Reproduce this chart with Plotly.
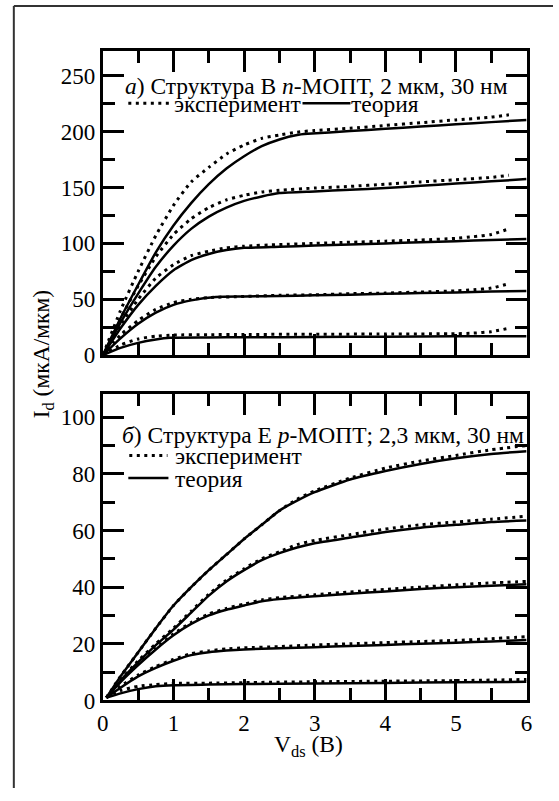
import plotly.graph_objects as go

# ---- Panel a: n-MOSFET (structure B), Id vs Vds ----
n_theory_x = [
    [0, 0.25, 0.5, 0.75, 1, 1.25, 1.5, 1.75, 2, 2.25, 2.5, 2.75, 2.9, 3.5, 4, 4.5, 5, 5.5, 6],
    [0, 0.25, 0.5, 0.75, 1, 1.25, 1.5, 1.75, 2, 2.25, 2.5, 3, 3.5, 4, 4.5, 5, 5.5, 6],
    [0, 0.25, 0.5, 0.75, 1, 1.25, 1.5, 1.75, 2, 2.5, 3, 3.5, 4, 4.5, 5, 5.5, 6],
    [0, 0.25, 0.5, 0.75, 1, 1.25, 1.6, 2, 2.5, 3, 3.5, 4, 4.5, 5, 5.5, 6],
    [0, 0.25, 0.5, 0.75, 0.95, 1.5, 2, 3, 4, 5, 6],
]
n_theory_y = [
    [0, 33, 63, 92, 116, 136, 153, 167, 178, 187, 193, 197, 198, 200.5, 202.5, 204.5, 206.5, 208.5, 210.5],
    [0, 29, 55, 79, 98, 113, 124, 132, 138, 142, 145, 146.5, 148, 149.5, 151.5, 153.5, 155.5, 157.5],
    [0, 24, 45, 62, 76, 85, 90.5, 94, 96, 97, 98, 99, 100, 101, 102, 103, 104],
    [0, 15, 28, 38, 45, 49, 52, 52.5, 53, 53.5, 54, 55, 55.5, 56, 57, 57.5],
    [0, 6.5, 11, 14, 15.5, 15.8, 16, 16.2, 16.5, 16.8, 17],
]
n_exp_x = [
    [0, 0.25, 0.5, 0.75, 1, 1.25, 1.5, 1.75, 2, 2.25, 2.5, 2.75, 3, 3.5, 4, 4.5, 5, 5.5, 5.75],
    [0, 0.25, 0.5, 0.75, 1, 1.25, 1.5, 1.75, 2, 2.25, 2.5, 3, 3.5, 4, 4.5, 5, 5.5, 5.75],
    [0, 0.25, 0.5, 0.75, 1, 1.25, 1.5, 1.75, 2, 2.5, 3, 3.5, 4, 4.5, 5, 5.25, 5.5, 5.75],
    [0, 0.25, 0.5, 0.75, 1, 1.25, 1.5, 2, 2.5, 3, 3.5, 4, 4.5, 5, 5.25, 5.5, 5.75],
    [0, 0.25, 0.5, 0.75, 1, 1.5, 2, 3, 4, 5, 5.25, 5.5, 5.75],
]
n_exp_y = [
    [0, 40, 75, 107, 134, 155, 168, 180, 188, 194, 197, 199.5, 201, 203, 205.5, 208, 210.5, 213, 215],
    [0, 33, 62, 88, 108, 122, 132, 139, 143, 146, 147.5, 149.5, 151, 153, 155, 157, 159, 161],
    [0, 27, 50, 69, 81, 89, 93, 96, 97.5, 99, 100, 101, 102, 103, 104.5, 106, 108, 113],
    [0, 18, 31, 41, 47, 50, 51.5, 52.5, 53.5, 54, 55, 55.5, 56.5, 57.5, 58.5, 60, 64],
    [0, 9, 14.5, 17, 18, 18.3, 18.5, 18.7, 18.9, 19.2, 19.7, 21, 24],
]

# ---- Panel b: p-MOSFET (structure E), Id vs Vds ----
p_x_1 = [0.05, 0.25, 0.5, 0.75, 1, 1.25, 1.5, 1.75, 2, 2.25, 2.5, 2.75, 3, 3.5, 4, 4.5, 5, 5.5, 6]
p_x_2 = [0.05, 0.25, 0.5, 0.75, 1, 1.25, 1.5, 1.75, 2, 2.25, 2.5, 2.75, 3, 3.5, 4, 4.5, 5, 5.5, 6]
p_x_3 = [0.05, 0.25, 0.5, 0.75, 1, 1.25, 1.5, 1.75, 2, 2.25, 2.5, 3, 3.5, 4, 4.5, 5, 5.5, 6]
p_x_4 = [0.05, 0.25, 0.5, 0.75, 1, 1.25, 1.5, 1.75, 2, 2.5, 3, 3.5, 4, 4.5, 5, 5.5, 6]
p_x_5 = [0.05, 0.25, 0.5, 0.75, 1, 1.5, 2, 3, 4, 5, 6]
p_x = [p_x_1, p_x_2, p_x_3, p_x_4, p_x_5]

p_theory_y = [
    [1, 8.5, 17, 25.5, 33.5, 40, 46, 51.5, 57, 62, 67, 70.5, 73.5, 78, 81, 83.5, 85.5, 87, 88],
    [1, 7, 13.5, 19.5, 25, 31, 37, 42, 46, 49.5, 52, 54, 55.5, 57.5, 59.5, 61, 62, 63, 63.5],
    [1, 6.5, 12.5, 18, 23, 27, 30, 32, 33.5, 35, 35.8, 36.8, 37.7, 38.5, 39.3, 40, 40.5, 41],
    [1, 4.5, 8.5, 11.5, 14, 16, 17, 17.6, 18, 18.4, 18.8, 19.2, 19.6, 20, 20.4, 20.8, 21.3],
    [1, 2.5, 4, 5, 5.4, 5.6, 5.8, 6, 6.2, 6.4, 6.6],
]
p_exp_y = [
    [1, 8.5, 17, 25.5, 33.5, 40, 46, 51.5, 57, 62, 67, 71, 74, 78.5, 82, 84.5, 86.5, 88.5, 90],
    [1, 7.2, 14, 20, 25.5, 31.5, 37.5, 42.5, 46.5, 50, 52.5, 55, 56.5, 58.5, 60.5, 62, 63, 64, 65],
    [1, 7, 13, 18.5, 23.5, 27.5, 30.5, 32.5, 34, 35.5, 36.3, 37.3, 38.3, 39.2, 40, 40.8, 41.5, 42],
    [1, 5, 9, 12, 14.5, 16.5, 17.5, 18.2, 18.6, 19, 19.6, 20, 20.4, 20.8, 21.2, 21.8, 22.5],
    [1, 3.5, 5, 5.6, 6, 6.1, 6.3, 6.6, 6.8, 7, 7.4],
]

x_ticks = [0, 1, 2, 3, 4, 5, 6]
x_tick_labels = ["0", "1", "2", "3", "4", "5", "6"]
ya_ticks = [0, 50, 100, 150, 200, 250]
yb_ticks = [0, 20, 40, 60, 80, 100]

title_a = "<i>а</i>) Структура В <i>n</i>-МОПТ, 2 мкм, 30 нм"
title_b = "<i>б</i>) Структура Е <i>p</i>-МОПТ; 2,3 мкм, 30 нм"
label_exp = "эксперимент"
label_theory = "теория"
x_title = "V<sub>ds</sub> (В)"
y_title = "I<sub>d</sub> (мкА/мкм)"

W, H = 559, 801
FONT = "Liberation Serif"
DOT = "3px,4.5px"


def px(x):
    return x / W


def py(y):
    return 1 - y / H


fig = go.Figure()

solid = dict(color="black", width=2.5, shape="spline", smoothing=0.5)
dotted = dict(color="black", width=3, dash=DOT, shape="spline", smoothing=0.5)

for xs, ys in zip(n_theory_x, n_theory_y):
    fig.add_trace(go.Scatter(x=xs, y=ys, mode="lines", xaxis="x", yaxis="y", line=solid))
for xs, ys in zip(n_exp_x, n_exp_y):
    fig.add_trace(go.Scatter(x=xs, y=ys, mode="lines", xaxis="x", yaxis="y", line=dotted))
for xs, ys in zip(p_x, p_theory_y):
    fig.add_trace(go.Scatter(x=xs, y=ys, mode="lines", xaxis="x2", yaxis="y2", line=solid))
for xs, ys in zip(p_x, p_exp_y):
    fig.add_trace(go.Scatter(x=xs, y=ys, mode="lines", xaxis="x2", yaxis="y2", line=dotted))

axis_common = dict(
    showline=True, linecolor="black", linewidth=3, mirror="ticks",
    ticks="inside", ticklen=21, tickwidth=3, tickcolor="black",
    showgrid=False, zeroline=False,
    tickfont=dict(family=FONT, size=23, color="black"),
)
minor_common = dict(ticks="inside", ticklen=12, tickwidth=3, tickcolor="black", showgrid=False)

x_dom = [px(99), px(532)]

fig.update_layout(
    width=W, height=H,
    margin=dict(l=0, r=0, t=0, b=0),
    paper_bgcolor="white", plot_bgcolor="white",
    showlegend=False,
    font=dict(family=FONT, color="black"),
    xaxis=dict(axis_common, domain=x_dom, anchor="y", range=[0, 6],
               tickvals=x_ticks, showticklabels=False,
               minor=dict(minor_common, dtick=0.5)),
    yaxis=dict(axis_common, domain=[py(361), py(52)], anchor="x", range=[0, 272],
               tickvals=ya_ticks, minor=dict(minor_common, dtick=25)),
    xaxis2=dict(axis_common, domain=x_dom, anchor="y2", range=[0, 6],
                tickvals=x_ticks, ticktext=x_tick_labels,
                minor=dict(minor_common, dtick=0.5)),
    yaxis2=dict(axis_common, domain=[py(712), py(401)], anchor="x2", range=[0, 108],
                tickvals=yb_ticks, minor=dict(minor_common, dtick=10)),
)

txt = dict(family=FONT, size=23.5, color="black")
ann = [
    dict(text=title_a, x=px(120), y=py(87), xanchor="left", yanchor="middle"),
    dict(text=label_exp, x=px(170), y=py(106), xanchor="left", yanchor="middle"),
    dict(text=label_theory, x=px(351), y=py(106), xanchor="left", yanchor="middle"),
    dict(text=title_b, x=px(117), y=py(442), xanchor="left", yanchor="middle"),
    dict(text=label_exp, x=px(171), y=py(464), xanchor="left", yanchor="middle"),
    dict(text=label_theory, x=px(171), y=py(487), xanchor="left", yanchor="middle"),
    dict(text=x_title, x=px(309), y=py(758), xanchor="center", yanchor="middle"),
    dict(text=y_title, x=px(38), y=py(360), xanchor="center", yanchor="middle", textangle=-90),
]
for a in ann:
    fig.add_annotation(dict(a, xref="paper", yref="paper", showarrow=False, font=txt))

# legend samples and outer frame
shapes = [
    dict(type="line", x0=px(125), x1=px(170), y0=py(105), y1=py(105),
         line=dict(color="black", width=3, dash=DOT)),
    dict(type="line", x0=px(303), x1=px(352), y0=py(105), y1=py(105),
         line=dict(color="black", width=2.5)),
    dict(type="line", x0=px(126), x1=px(165), y0=py(463), y1=py(463),
         line=dict(color="black", width=3, dash=DOT)),
    dict(type="line", x0=px(125), x1=px(166), y0=py(486), y1=py(486),
         line=dict(color="black", width=2.5)),
    dict(type="line", x0=px(8), x1=px(8), y0=py(6), y1=0,
         line=dict(color="#333333", width=2)),
    dict(type="line", x0=px(8), x1=1, y0=py(6), y1=py(6),
         line=dict(color="#333333", width=2)),
]
for s in shapes:
    fig.add_shape(dict(s, xref="paper", yref="paper", layer="above"))

fig.write_html("out.html")
